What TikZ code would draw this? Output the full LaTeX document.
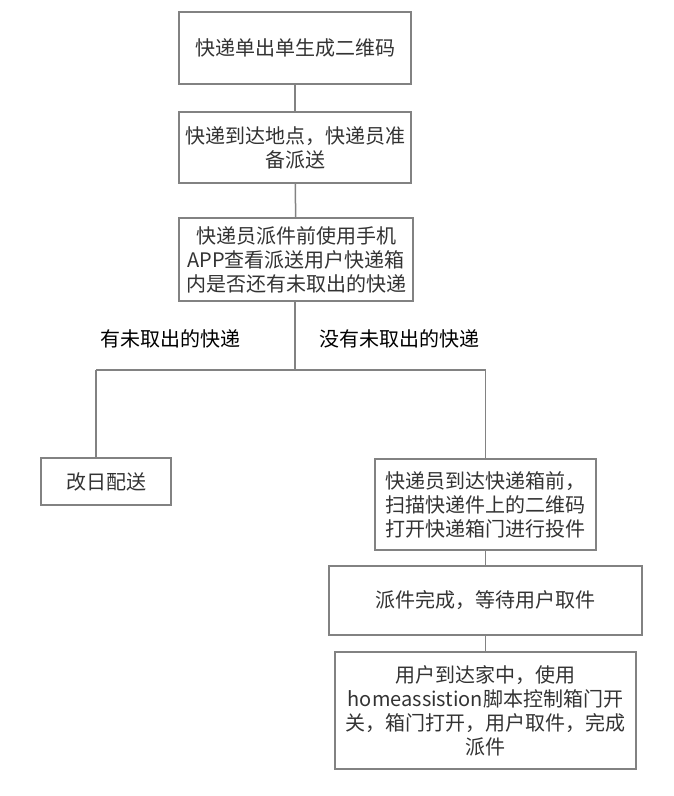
\documentclass[tikz,border=0pt]{standalone}
\usepackage{fontspec}
\setmainfont{Noto Sans CJK SC}
\usepackage{xcolor}
\usepackage{tikz}
\usetikzlibrary{positioning, calc}

\definecolor{boxline}{HTML}{828282}
\definecolor{boxtext}{HTML}{333333}

\begin{document}
\begin{tikzpicture}[x=1pt, y=-1pt,
    box/.style={draw=boxline, line width=1.5pt, fill=white, text=boxtext, align=center,
        font=\fontsize{20pt}{24pt}\selectfont, inner sep=2pt},
    link/.style={draw=boxline, line width=1.5pt},
    branch/.style={font=\fontsize{20pt}{24pt}\selectfont, text=black}]
    \useasboundingbox (0,0) rectangle (673,796);

    % 流程框
    \node[box, minimum width=232pt, minimum height=72pt] (qrcode) at (295,48) {快递单出单生成二维码};
    \node[box, minimum width=232pt, minimum height=71pt] (arrive) at (295,147.5) {快递到达地点，快递员准\\备派送};
    \node[box, minimum width=234pt, minimum height=83pt] (check) at (296,259.5) {快递员派件前使用手机\\APP查看派送用户快递箱\\内是否还有未取出的快递};
    \node[box, minimum width=130pt, minimum height=47pt] (later) at (106,481.5) {改日配送};
    \node[box, minimum width=221pt, minimum height=91pt] (deliver) at (485.5,504.5) {快递员到达快递箱前，\\扫描快递件上的二维码\\打开快递箱门进行投件};
    \node[box, minimum width=313pt, minimum height=69pt] (done) at (485.5,600.5) {派件完成，等待用户取件};
    \node[box, minimum width=301pt, minimum height=117pt] (pickup) at (485.5,710.5) {用户到达家中，使用\\homeassistion脚本控制箱门开\\关，箱门打开，用户取件，完成\\派件};

    % 分支点
    \coordinate (split) at (295,370);
    \coordinate (lbend) at (96,370);
    \coordinate (rbend) at (485.5,370);

    % 连线
    \draw[link] (qrcode) -- (arrive);
    \draw[link] (arrive) -- (check);
    \draw[link] (check.south -| split) -- (split);
    \draw[link] (lbend) -- (rbend);
    \draw[link] (lbend) -- (lbend |- later.north);
    \draw[link] (rbend) -- (deliver.north);
    \draw[link] (deliver) -- (done);
    \draw[link] (done) -- (pickup);

    % 分支说明
    \node[branch] (yes) at (170,339) {有未取出的快递};
    \node[branch] (no) at (399,339) {没有未取出的快递};
\end{tikzpicture}
\end{document}
